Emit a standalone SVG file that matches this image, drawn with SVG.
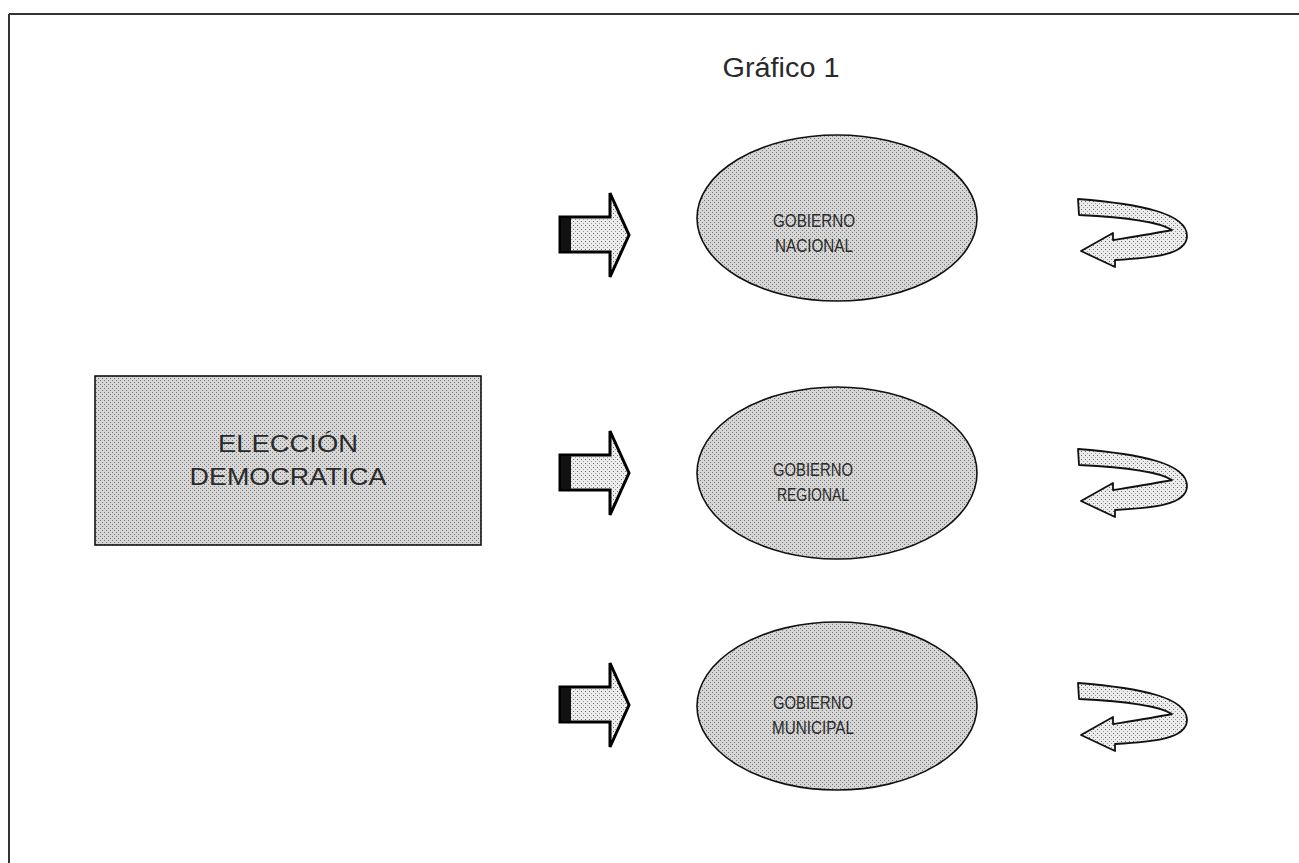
<svg xmlns="http://www.w3.org/2000/svg" width="1299" height="863" viewBox="0 0 1299 863">
<defs>
<pattern id="stip" width="4" height="4" patternUnits="userSpaceOnUse">
<rect width="4" height="4" fill="#d6d6d6"/>
<rect x="0" y="0" width="1" height="1" fill="#7a7a7a"/>
<rect x="2" y="2" width="1" height="1" fill="#7a7a7a"/>
</pattern>
<pattern id="stipL" width="4" height="4" patternUnits="userSpaceOnUse">
<rect width="4" height="4" fill="#ececec"/>
<rect x="1" y="1" width="1" height="1" fill="#6a6a6a"/>
<rect x="3" y="3" width="1" height="1" fill="#9a9a9a"/>
</pattern>
<path id="block" d="M 560 217 L 610 217 L 610 193 L 629 235 L 610 277 L 610 252 L 560 252 Z"/>
<path id="curl" d="M 1078 199 L 1079 215 C 1120 217 1158 221 1172 230 C 1152 234 1132 237 1113 240 L 1113 233 L 1081 251 L 1115 267 L 1115 260 C 1152 258 1187 255 1187 236 C 1187 213 1140 204 1078 199 Z"/>
</defs>
<style>
.lbl{font-family:"Liberation Sans",Arial,sans-serif;fill:#2a2a2a;text-anchor:middle}
.node{fill:url(#stip);stroke:#111;stroke-width:1.6}
.blk{fill:url(#stipL);stroke:#000;stroke-width:3;stroke-linejoin:miter}
.crl{fill:url(#stipL);stroke:#111;stroke-width:1.8;stroke-linejoin:round}
</style>
<rect width="1299" height="863" fill="#fff"/>
<g id="frame" stroke="#333" stroke-width="2" fill="none">
<line x1="9" y1="14" x2="1299" y2="14"/>
<line x1="9" y1="14" x2="9" y2="863"/>
</g>
<text id="title" x="781" y="77" class="lbl" font-size="27" textLength="117" lengthAdjust="spacingAndGlyphs">Gráfico 1</text>
<g id="eleccion">
<rect class="node" x="95" y="376" width="386" height="169"/>
<text class="lbl" x="288" y="452" font-size="24" textLength="140" lengthAdjust="spacingAndGlyphs">ELECCIÓN</text>
<text class="lbl" x="288" y="485" font-size="24" textLength="197" lengthAdjust="spacingAndGlyphs">DEMOCRATICA</text>
</g>
<g id="nacional">
<ellipse class="node" cx="837" cy="218" rx="140" ry="83"/>
<text class="lbl" x="814" y="227" font-size="18" textLength="82" lengthAdjust="spacingAndGlyphs">GOBIERNO</text>
<text class="lbl" x="814" y="252" font-size="18" textLength="78" lengthAdjust="spacingAndGlyphs">NACIONAL</text>
</g>
<g id="regional">
<ellipse class="node" cx="837" cy="473" rx="140" ry="86"/>
<text class="lbl" x="813" y="476" font-size="18" textLength="80" lengthAdjust="spacingAndGlyphs">GOBIERNO</text>
<text class="lbl" x="813" y="501" font-size="18" textLength="72" lengthAdjust="spacingAndGlyphs">REGIONAL</text>
</g>
<g id="municipal">
<ellipse class="node" cx="837" cy="706" rx="140" ry="84"/>
<text class="lbl" x="813" y="709" font-size="18" textLength="80" lengthAdjust="spacingAndGlyphs">GOBIERNO</text>
<text class="lbl" x="813" y="734" font-size="18" textLength="82" lengthAdjust="spacingAndGlyphs">MUNICIPAL</text>
</g>
<g id="connectors">
<g id="arrow-nacional">
<use href="#block" class="blk"/>
<rect x="561" y="218" width="10" height="33" fill="#111"/>
</g>
<g id="arrow-regional" transform="translate(0,238)">
<use href="#block" class="blk"/>
<rect x="561" y="218" width="10" height="33" fill="#111"/>
</g>
<g id="arrow-municipal" transform="translate(0,470)">
<use href="#block" class="blk"/>
<rect x="561" y="218" width="10" height="33" fill="#111"/>
</g>
<use id="loop-nacional" href="#curl" class="crl"/>
<use id="loop-regional" href="#curl" class="crl" transform="translate(0,250)"/>
<use id="loop-municipal" href="#curl" class="crl" transform="translate(0,484)"/>
</g>
</svg>
